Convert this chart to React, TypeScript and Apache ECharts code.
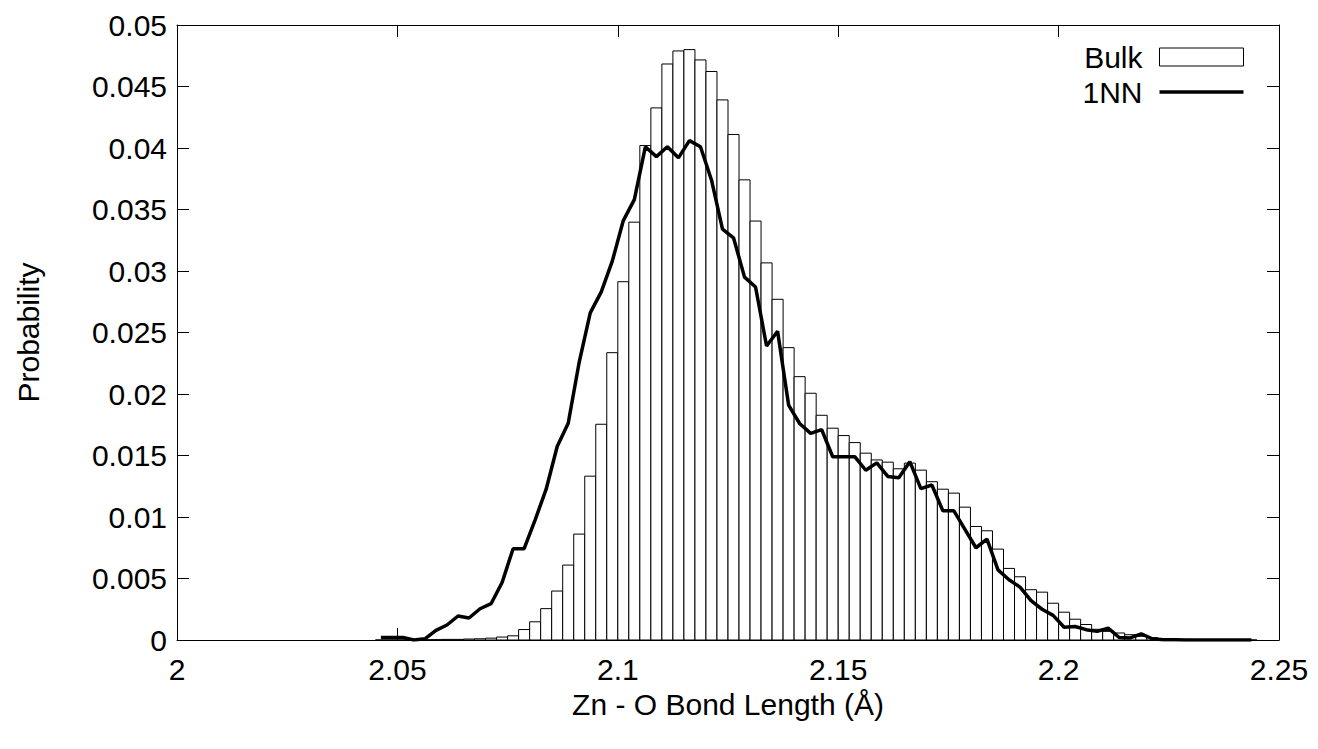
import React, { useEffect, useRef } from "react";
import * as echarts from "echarts";

// Histogram bins: 80 bins of width 0.0025 starting at 2.045
const BIN_START = 2.045;
const BIN_WIDTH = 0.0025;

const bulkValues = [
  0, 0, 0, 0, 0.00002, 0.00003, 0.00005, 0.00005, 0.00008, 0.0001,
  0.00015, 0.00024, 0.00034, 0.00085, 0.00148, 0.00255, 0.00398, 0.00609, 0.00861, 0.01332,
  0.01754, 0.02336, 0.02913, 0.03397, 0.0402, 0.04326, 0.04683, 0.04789, 0.048, 0.04716,
  0.04622, 0.04391, 0.0411, 0.03741, 0.03406, 0.03066, 0.0277, 0.02377, 0.02141, 0.02006,
  0.01827, 0.01722, 0.01662, 0.01605, 0.01519, 0.01464, 0.01446, 0.01392, 0.01438, 0.01381,
  0.01287, 0.01226, 0.01194, 0.0108, 0.00923, 0.00888, 0.00739, 0.00582, 0.00514, 0.00409,
  0.00389, 0.00299, 0.00226, 0.00169, 0.00126, 0.00087, 0.0007, 0.00057, 0.00043, 0.0003,
  0.00019, 0.00012, 0.00008, 0.00005, 0.00003, 0.00002, 0.00001, 0.00001, 0, 0,
];

const nnValues = [
  0.0002, 0.0002, 0.0002, 0.0, 0.0001, 0.00078, 0.00122, 0.00195, 0.00179, 0.00254,
  0.00295, 0.00468, 0.00742, 0.00742, 0.00977, 0.01226, 0.01573, 0.01762, 0.0226, 0.0266,
  0.0283, 0.0308, 0.0341, 0.0358, 0.0401, 0.0393, 0.0401, 0.0392, 0.0406, 0.0401,
  0.0374, 0.0334, 0.0327, 0.0295, 0.0287, 0.0239, 0.0251, 0.0191, 0.0176, 0.0168,
  0.0171, 0.0149, 0.0149, 0.0149, 0.0138, 0.0144, 0.0133, 0.0132, 0.0145, 0.0123,
  0.0126, 0.0105, 0.0105, 0.009, 0.0075, 0.0082, 0.0057, 0.0049, 0.0043, 0.0032,
  0.0025, 0.002, 0.00104, 0.0011, 0.00084, 0.0007, 0.00097, 0.0002, 0.00017, 0.0005,
  0.0001, 0.00003, 0.00002, 0.00001, 0.00001, 0, 0, 0, 0, 0,
];

const binCenters = bulkValues.map((_, i) => +(BIN_START + BIN_WIDTH * (i + 0.5)).toFixed(5));

const X_MIN = 2.0;
const X_MAX = 2.25;
const X_INTERVAL = 0.05;
const Y_MIN = 0;
const Y_MAX = 0.05;
const Y_INTERVAL = 0.005;

const FONT = '"Liberation Sans", Arial, sans-serif';
const FS = 30;

export default function App() {
  const ref = useRef<HTMLDivElement>(null);
  useEffect(() => {
    if (!ref.current) return;
    const chart = echarts.init(ref.current, undefined, { renderer: "svg" });
    const tickStyle = { inside: true, length: 12, lineStyle: { color: "#000", width: 1 } };
    const fmt = (v: number) => String(+v.toFixed(4));
    const baseX = {
      type: "value" as const,
      min: X_MIN,
      max: X_MAX,
      interval: X_INTERVAL,
      splitLine: { show: false },
      axisLine: { show: true, onZero: false, lineStyle: { color: "#000", width: 1 } },
      axisTick: tickStyle,
    };
    const baseY = {
      type: "value" as const,
      min: Y_MIN,
      max: Y_MAX,
      interval: Y_INTERVAL,
      splitLine: { show: false },
      axisLine: { show: true, onZero: false, lineStyle: { color: "#000", width: 1 } },
      axisTick: tickStyle,
    };
    chart.setOption({
      animation: false,
      backgroundColor: "#fff",
      textStyle: { fontFamily: FONT },
      grid: { left: 177, right: 39, top: 25, bottom: 109, containLabel: false },
      legend: {
        orient: "vertical",
        right: 69,
        top: 37,
        align: "right",
        itemWidth: 84,
        itemHeight: 18,
        itemGap: 5,
        selectedMode: false,
        textStyle: { fontSize: FS, color: "#000", fontFamily: FONT, padding: [0, 12, 0, 0] },
        data: [
          { name: "Bulk", icon: "rect", itemStyle: { color: "#fff", borderColor: "#000", borderWidth: 1 } },
          { name: "1NN", icon: "path://M0,0 L84,0 L84,3.5 L0,3.5 Z", itemStyle: { color: "#000" } },
        ],
      },
      xAxis: [
        {
          ...baseX,
          position: "bottom",
          name: "Zn - O Bond Length (Å)",
          nameLocation: "middle",
          nameGap: 49,
          nameTextStyle: { fontSize: FS, color: "#000", fontFamily: FONT },
          axisLabel: { fontSize: FS, color: "#000", margin: 14, fontFamily: FONT, formatter: fmt },
        },
        { ...baseX, position: "top", axisLabel: { show: false } },
      ],
      yAxis: [
        {
          ...baseY,
          position: "left",
          name: "Probability",
          nameLocation: "middle",
          nameGap: 134,
          nameTextStyle: { fontSize: FS, color: "#000", fontFamily: FONT },
          axisLabel: { fontSize: FS, color: "#000", margin: 10, fontFamily: FONT, formatter: fmt },
        },
        { ...baseY, position: "right", axisLabel: { show: false } },
      ],
      series: [
        {
          name: "Bulk",
          type: "custom",
          xAxisIndex: 0,
          yAxisIndex: 0,
          z: 2,
          encode: { x: 0, y: 1 },
          data: binCenters.map((c, i) => [c, bulkValues[i]]),
          renderItem: (params: any, api: any) => {
            const x = api.value(0);
            const y = api.value(1);
            const p0 = api.coord([x - BIN_WIDTH / 2, y]);
            const p1 = api.coord([x + BIN_WIDTH / 2, 0]);
            return {
              type: "rect",
              shape: { x: p0[0], y: p0[1], width: p1[0] - p0[0], height: p1[1] - p0[1] },
              style: { fill: "#fff", stroke: "#000", lineWidth: 1 },
            };
          },
        },
        {
          name: "1NN",
          type: "line",
          xAxisIndex: 0,
          yAxisIndex: 0,
          z: 5,
          symbol: "none",
          lineStyle: { color: "#000", width: 3.5 },
          itemStyle: { color: "#000" },
          data: binCenters.map((c, i) => [c, nnValues[i]]),
        },
      ],
    });
    return () => chart.dispose();
  }, []);
  return (
    <div
      ref={ref}
      style={{ position: "absolute", left: 0, top: 0, width: 1318, height: 749, background: "#fff" }}
    />
  );
}
